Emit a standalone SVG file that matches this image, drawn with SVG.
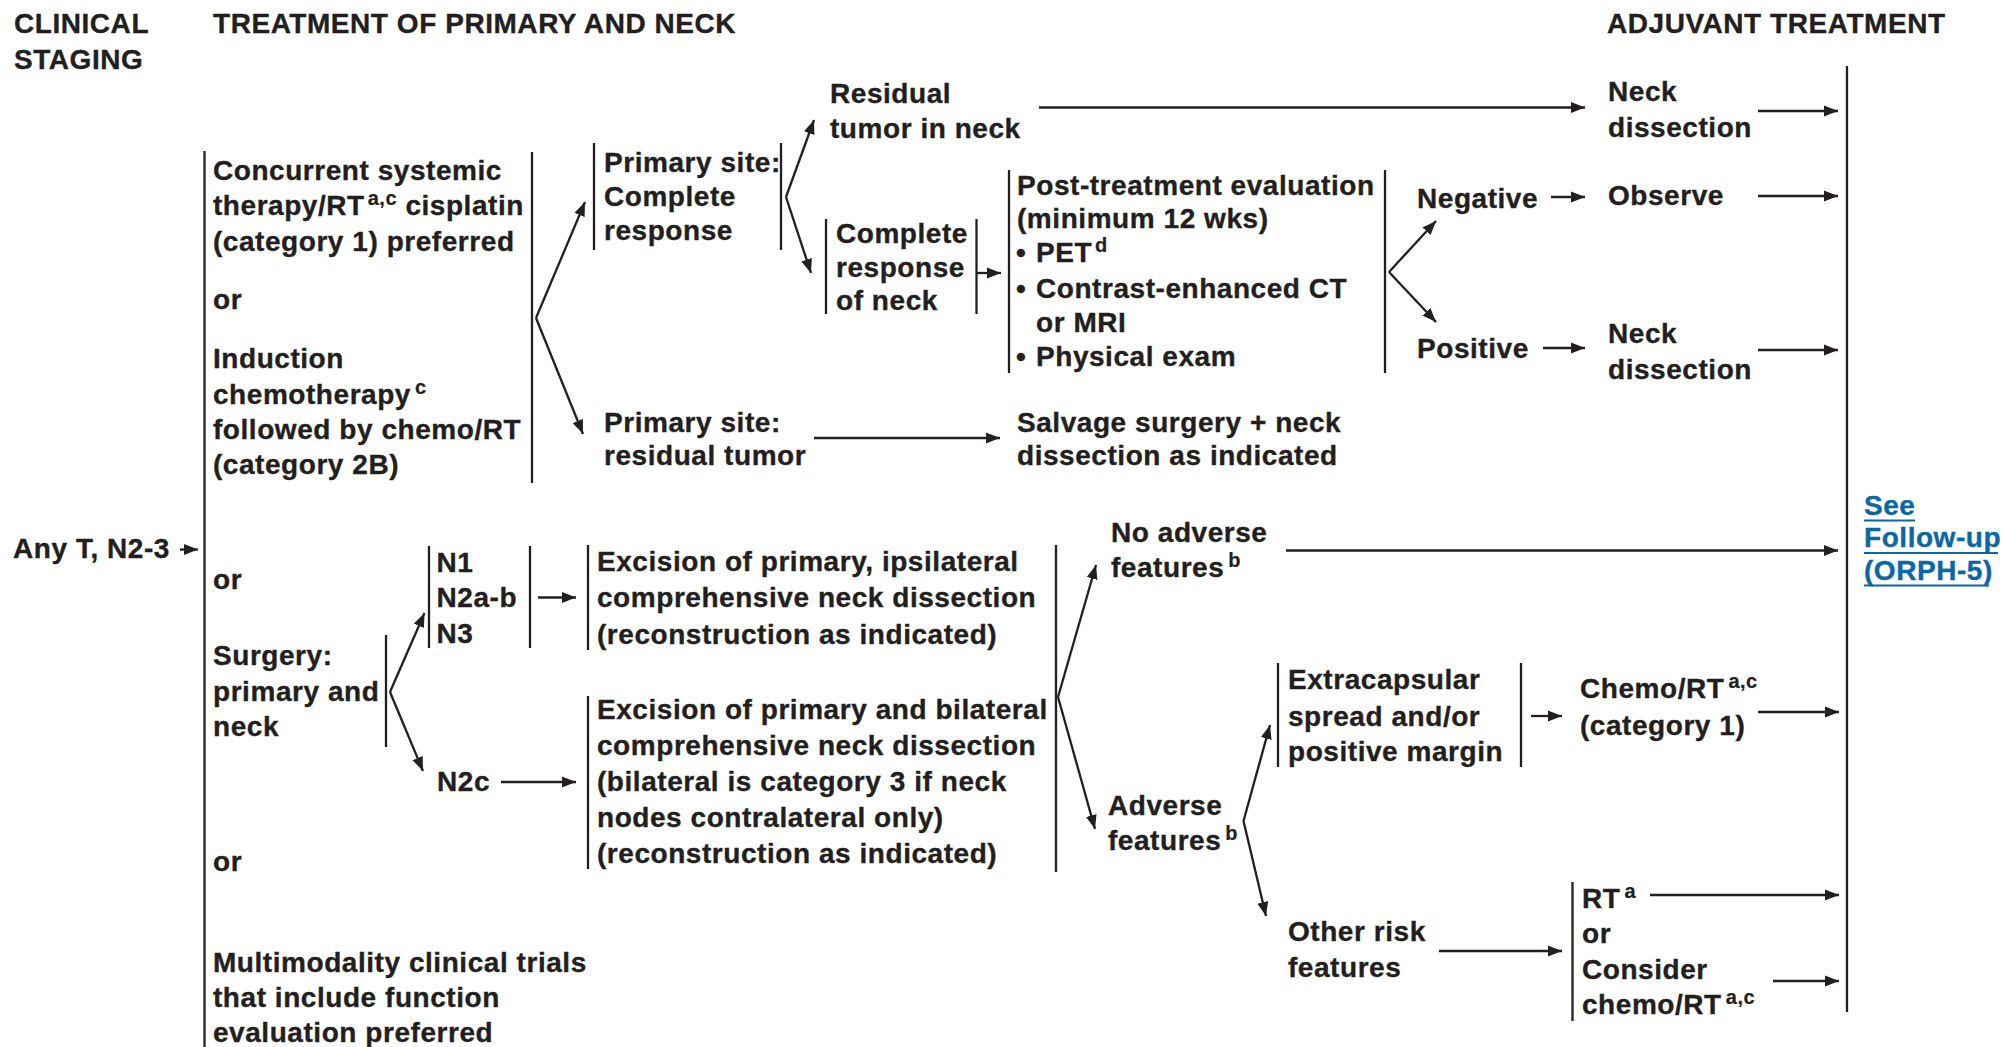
<svg xmlns="http://www.w3.org/2000/svg" width="2005" height="1047" viewBox="0 0 2005 1047">
  <defs>
    <style>
      text { font-family: "Liberation Sans", Arial, Helvetica, sans-serif; font-weight: bold; font-size: 28px; letter-spacing: 0.55px; fill: #231f20; stroke: #231f20; stroke-width: 0.35px; }
      .sup { font-size: 20px; letter-spacing: 0.5px; stroke-width: 0.2px; }
      .link { fill: #0b67a6; stroke: #0b67a6; }
      .rule { stroke: #231f20; stroke-width: 2.3; fill: none; }
      .arrow { stroke: #231f20; stroke-width: 2.3; fill: none; marker-end: url(#ah); }
      .uline { stroke: #0b67a6; stroke-width: 2; }
    </style>
    <marker id="ah" markerUnits="userSpaceOnUse" markerWidth="15" markerHeight="12" refX="14" refY="6" orient="auto" viewBox="0 0 15 12">
      <path d="M0,0.5 L14,6 L0,11.5 z" fill="#231f20"/>
    </marker>
  </defs>
  <rect width="2005" height="1047" fill="#ffffff"/>

  <!-- column headers -->
  <g id="hdr-staging"><text x="14" y="33">CLINICAL</text><text x="14" y="69">STAGING</text></g>
  <g id="hdr-treatment"><text x="213" y="33">TREATMENT OF PRIMARY AND NECK</text></g>
  <g id="hdr-adjuvant"><text x="1607" y="33">ADJUVANT TREATMENT</text></g>

  <!-- staging -->
  <g id="stage"><text x="13" y="558">Any T, N2-3</text></g>
  <g id="options-bracket"><line class="rule" x1="204.5" y1="151" x2="204.5" y2="1047"/></g>

  <!-- non-surgical options -->
  <g id="opt-concurrent">
    <text x="213" y="179.5">Concurrent systemic</text>
    <text x="213" y="215">therapy/RT<tspan class="sup" dx="3" dy="-10">a,c</tspan><tspan dy="10"> cisplatin</tspan></text>
    <text x="213" y="250.5">(category 1) preferred</text>
    <text x="213" y="309">or</text>
    <text x="213" y="368">Induction</text>
    <text x="213" y="403.5">chemotherapy<tspan class="sup" dx="4" dy="-10">c</tspan></text>
    <text x="213" y="439">followed by chemo/RT</text>
    <text x="213" y="474">(category 2B)</text>
    <line class="rule" x1="532" y1="152" x2="532" y2="483"/>
  </g>

  <g id="cr-primary">
    <line class="rule" x1="594" y1="143" x2="594" y2="250"/>
    <text x="604" y="171.5">Primary site:</text>
    <text x="604" y="206">Complete</text>
    <text x="604" y="240">response</text>
    <line class="rule" x1="781" y1="143" x2="781" y2="250"/>
  </g>

  <g id="residual-neck"><text x="830" y="102.5">Residual</text><text x="830" y="138">tumor in neck</text></g>
  <g id="neck-dissection-1"><text x="1608" y="101">Neck</text><text x="1608" y="137">dissection</text></g>

  <g id="cr-neck">
    <line class="rule" x1="826" y1="219" x2="826" y2="314"/>
    <text x="836" y="243">Complete</text>
    <text x="836" y="277">response</text>
    <text x="836" y="310">of neck</text>
    <line class="rule" x1="976.5" y1="219" x2="976.5" y2="314"/>
  </g>

  <g id="post-eval">
    <line class="rule" x1="1009" y1="170" x2="1009" y2="373"/>
    <text x="1017" y="194.5">Post-treatment evaluation</text>
    <text x="1017" y="228">(minimum 12 wks)</text>
    <text x="1016" y="262">•</text><text x="1036" y="262">PET<tspan class="sup" dx="3" dy="-10">d</tspan></text>
    <text x="1016" y="298">•</text><text x="1036" y="298">Contrast-enhanced CT</text>
    <text x="1036" y="332">or MRI</text>
    <text x="1016" y="366">•</text><text x="1036" y="366">Physical exam</text>
    <line class="rule" x1="1385" y1="170" x2="1385" y2="373"/>
  </g>

  <g id="negative"><text x="1417" y="207.5">Negative</text></g>
  <g id="observe"><text x="1608" y="204.5">Observe</text></g>
  <g id="positive"><text x="1417" y="357.5">Positive</text></g>
  <g id="neck-dissection-2"><text x="1608" y="343">Neck</text><text x="1608" y="379">dissection</text></g>

  <g id="residual-primary"><text x="604" y="432">Primary site:</text><text x="604" y="465">residual tumor</text></g>
  <g id="salvage"><text x="1017" y="432">Salvage surgery + neck</text><text x="1017" y="464.5">dissection as indicated</text></g>

  <!-- surgical option -->
  <g id="or-surgery"><text x="213" y="589">or</text></g>
  <g id="surgery">
    <text x="213" y="664.5">Surgery:</text>
    <text x="213" y="700.5">primary and</text>
    <text x="213" y="735.5">neck</text>
    <line class="rule" x1="386" y1="635" x2="386" y2="747"/>
  </g>

  <g id="n-stage">
    <line class="rule" x1="429" y1="546" x2="429" y2="648"/>
    <text x="436.5" y="571.5">N1</text>
    <text x="436.5" y="607">N2a-b</text>
    <text x="436.5" y="642.5">N3</text>
    <line class="rule" x1="530" y1="546" x2="530" y2="648"/>
  </g>

  <g id="excision-ipsi">
    <line class="rule" x1="588" y1="545" x2="588" y2="650"/>
    <text x="597" y="570.5">Excision of primary, ipsilateral</text>
    <text x="597" y="607">comprehensive neck dissection</text>
    <text x="597" y="643.5">(reconstruction as indicated)</text>
  </g>

  <g id="n2c"><text x="437" y="791">N2c</text></g>

  <g id="excision-bi">
    <line class="rule" x1="588" y1="696" x2="588" y2="869"/>
    <text x="597" y="718.5">Excision of primary and bilateral</text>
    <text x="597" y="754.5">comprehensive neck dissection</text>
    <text x="597" y="791">(bilateral is category 3 if neck</text>
    <text x="597" y="827">nodes contralateral only)</text>
    <text x="597" y="863">(reconstruction as indicated)</text>
  </g>
  <g id="excision-bracket"><line class="rule" x1="1056" y1="545" x2="1056" y2="872"/></g>

  <g id="or-trials"><text x="213" y="871">or</text></g>
  <g id="trials">
    <text x="213" y="971.5">Multimodality clinical trials</text>
    <text x="213" y="1007">that include function</text>
    <text x="213" y="1042">evaluation preferred</text>
  </g>

  <!-- pathology findings -->
  <g id="no-adverse"><text x="1111" y="541.5">No adverse</text><text x="1111" y="577">features<tspan class="sup" dx="4" dy="-10">b</tspan></text></g>
  <g id="adverse"><text x="1108" y="814.5">Adverse</text><text x="1108" y="850">features<tspan class="sup" dx="4" dy="-10">b</tspan></text></g>

  <g id="extracap">
    <line class="rule" x1="1278" y1="663" x2="1278" y2="767"/>
    <text x="1288" y="689">Extracapsular</text>
    <text x="1288" y="725.5">spread and/or</text>
    <text x="1288" y="760.5">positive margin</text>
    <line class="rule" x1="1521" y1="663" x2="1521" y2="767"/>
  </g>
  <g id="chemort-1"><text x="1580" y="698">Chemo/RT<tspan class="sup" dx="4" dy="-10">a,c</tspan></text><text x="1580" y="734.5">(category 1)</text></g>

  <g id="other-risk"><text x="1288" y="941">Other risk</text><text x="1288" y="977">features</text></g>
  <g id="rt-options">
    <line class="rule" x1="1572.5" y1="882" x2="1572.5" y2="1021"/>
    <text x="1582" y="907.5">RT<tspan class="sup" dx="4" dy="-10">a</tspan></text>
    <text x="1582" y="943">or</text>
    <text x="1582" y="978.5">Consider</text>
    <text x="1582" y="1014">chemo/RT<tspan class="sup" dx="4" dy="-10">a,c</tspan></text>
  </g>

  <g id="followup">
    <line class="rule" x1="1847" y1="66" x2="1847" y2="1012"/>
    <text class="link" x="1864" y="514.5">See</text>
    <text class="link" x="1864" y="547">Follow-up</text>
    <text class="link" x="1864" y="579.5">(ORPH-5)</text>
    <line class="uline" x1="1864" y1="520.5" x2="1915" y2="520.5"/>
    <line class="uline" x1="1864" y1="553" x2="1998" y2="553"/>
    <line class="uline" x1="1864" y1="585.5" x2="1989" y2="585.5"/>
  </g>

  <!-- connectors -->
  <g id="connectors">
    <line class="arrow" x1="180" y1="549.5" x2="198" y2="549.5"/>
    <line class="arrow" x1="536" y1="318" x2="585" y2="202"/>
    <line class="arrow" x1="536" y1="318" x2="583" y2="434"/>
    <line class="arrow" x1="786" y1="197" x2="814" y2="120"/>
    <line class="arrow" x1="786" y1="197" x2="811" y2="273"/>
    <line class="arrow" x1="1039" y1="107.5" x2="1585" y2="107.5"/>
    <line class="arrow" x1="1758" y1="111" x2="1838" y2="111"/>
    <line class="arrow" x1="977" y1="273" x2="1001" y2="273"/>
    <line class="arrow" x1="1389" y1="272" x2="1436" y2="221"/>
    <line class="arrow" x1="1389" y1="272" x2="1436" y2="322"/>
    <line class="arrow" x1="1551" y1="197" x2="1585" y2="197"/>
    <line class="arrow" x1="1758" y1="196" x2="1838" y2="196"/>
    <line class="arrow" x1="1543" y1="348" x2="1585" y2="348"/>
    <line class="arrow" x1="1758" y1="350" x2="1838" y2="350"/>
    <line class="arrow" x1="814" y1="438" x2="1000" y2="438"/>
    <line class="arrow" x1="390" y1="692" x2="424.5" y2="613"/>
    <line class="arrow" x1="390" y1="692" x2="423" y2="771"/>
    <line class="arrow" x1="538" y1="597.5" x2="576" y2="597.5"/>
    <line class="arrow" x1="501" y1="782" x2="576" y2="782"/>
    <line class="arrow" x1="1058" y1="697" x2="1096" y2="565"/>
    <line class="arrow" x1="1058" y1="697" x2="1095" y2="829"/>
    <line class="arrow" x1="1286" y1="550.5" x2="1838" y2="550.5"/>
    <line class="arrow" x1="1243.5" y1="821" x2="1270" y2="725"/>
    <line class="arrow" x1="1243.5" y1="821" x2="1266" y2="916"/>
    <line class="arrow" x1="1531" y1="716" x2="1562" y2="716"/>
    <line class="arrow" x1="1758" y1="712" x2="1839" y2="712"/>
    <line class="arrow" x1="1439" y1="951" x2="1562" y2="951"/>
    <line class="arrow" x1="1650" y1="895" x2="1839" y2="895"/>
    <line class="arrow" x1="1773" y1="981" x2="1839" y2="981"/>
  </g>
</svg>
